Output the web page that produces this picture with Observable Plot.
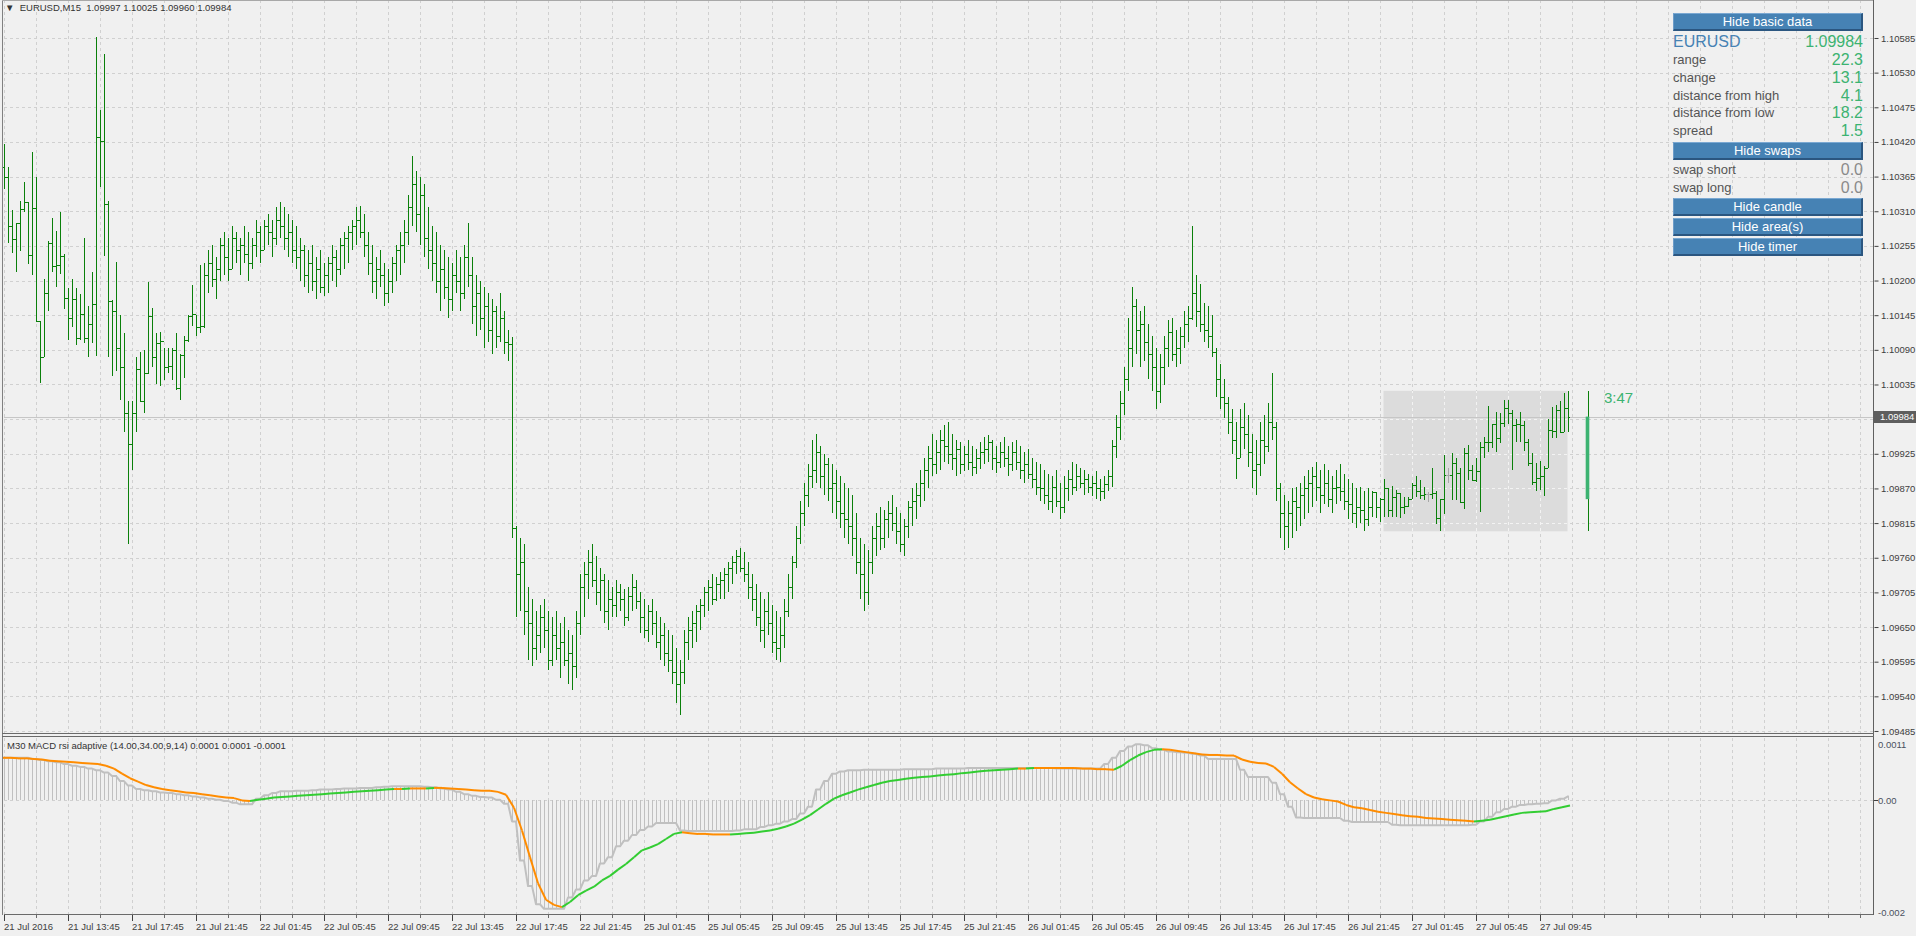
<!DOCTYPE html>
<html>
<head>
<meta charset="utf-8">
<script src="https://cdn.jsdelivr.net/npm/d3@7"></script>
<script src="https://cdn.jsdelivr.net/npm/@observablehq/plot@0.6"></script>
<style>
  html, body { margin:0; padding:0; background:#f0f0f0; }
  #wrap { position:relative; width:1916px; height:936px; overflow:hidden; background:#f0f0f0; }
  #wrap svg { position:absolute; left:0; }
  .ln { position:absolute; background:#7a7a7a; }
  .btn { position:absolute; left:1673px; width:190px; height:18px; box-sizing:border-box; background:#4682b4;
         border-top:1px solid #7aa8d2; border-left:1px solid #6d9cc8; border-bottom:2px solid #2b5680; border-right:2px solid #2b5680;
         color:#fff; font:13px "Liberation Sans", Arial, sans-serif; line-height:15px; text-align:center; }
  .lbl { position:absolute; left:1673px; font:13px "Liberation Sans", Arial, sans-serif; color:#555; line-height:16px; white-space:nowrap; }
  .val { position:absolute; right:53px; font:16px "Liberation Sans", Arial, sans-serif; color:#3cb371; line-height:18px; text-align:right; }
  .sm { font-family:"Liberation Sans", Arial, sans-serif; font-size:9.5px; color:#404040; white-space:pre; }
</style>
</head>
<body>
<div id="wrap"></div>
<script>
// ---------------- data ----------------
const symbolName = "EURUSD";
const titleText = "EURUSD,M15  1.09997 1.10025 1.09960 1.09984";
const indicatorTitle = "M30 MACD rsi adaptive (14.00,34.00,9,14) 0.0001 0.0001 -0.0001";
const lastPrice = 1.09984;
const timerText = "3:47";

const timeLabels = ["21 Jul 2016","21 Jul 13:45","21 Jul 17:45","21 Jul 21:45","22 Jul 01:45","22 Jul 05:45",
  "22 Jul 09:45","22 Jul 13:45","22 Jul 17:45","22 Jul 21:45","25 Jul 01:45","25 Jul 05:45","25 Jul 09:45",
  "25 Jul 13:45","25 Jul 17:45","25 Jul 21:45","26 Jul 01:45","26 Jul 05:45","26 Jul 09:45","26 Jul 13:45",
  "26 Jul 17:45","26 Jul 21:45","27 Jul 01:45","27 Jul 05:45","27 Jul 09:45"];
const timeLabelBars = [0,16,32,48,64,80,96,112,128,144,160,176,192,208,224,240,256,272,288,304,320,336,352,368,384];

const priceTicks = [1.10585,1.10530,1.10475,1.10420,1.10365,1.10310,1.10255,1.10200,1.10145,1.10090,1.10035,
  1.09980,1.09925,1.09870,1.09815,1.09760,1.09705,1.09650,1.09595,1.09540,1.09485];
const indTicks = [0.0011, 0, -0.002];
const indTickLabels = ["0.0011", "0.00", "-0.002"];

// M15 bars
const open = [
 1.10380,1.10365,1.10287,1.10266,1.10291,1.10313,1.10325,1.10240,1.10315,1.10135,
 1.10078,1.10181,1.10259,1.10223,1.10224,1.10239,1.10172,1.10140,1.10171,1.10108,
 1.10147,1.10109,1.10131,1.10162,1.10428,1.10422,1.10321,1.10167,1.10152,1.10093,
 1.10063,1.09990,1.09940,1.09990,1.10060,1.10008,1.10054,1.10143,1.10078,1.10101,
 1.10104,1.10063,1.10065,1.10090,1.10030,1.10082,1.10105,1.10143,1.10147,1.10127,
 1.10128,1.10209,1.10228,1.10203,1.10219,1.10257,1.10238,1.10219,1.10267,1.10248,
 1.10257,1.10242,1.10228,1.10257,1.10277,1.10248,1.10287,1.10277,1.10267,1.10296,
 1.10287,1.10267,1.10277,1.10248,1.10238,1.10248,1.10209,1.10228,1.10199,1.10219,
 1.10190,1.10209,1.10228,1.10238,1.10219,1.10257,1.10267,1.10277,1.10287,1.10296,
 1.10277,1.10257,1.10228,1.10199,1.10219,1.10209,1.10180,1.10199,1.10228,1.10248,
 1.10257,1.10277,1.10316,1.10354,1.10306,1.10335,1.10267,1.10248,1.10228,1.10199,
 1.10219,1.10190,1.10170,1.10209,1.10199,1.10180,1.10238,1.10209,1.10160,1.10180,
 1.10141,1.10160,1.10122,1.10151,1.10112,1.10141,1.10102,1.10100,1.09807,1.09734,
 1.09753,1.09676,1.09656,1.09617,1.09637,1.09666,1.09646,1.09598,1.09637,1.09617,
 1.09627,1.09598,1.09608,1.09588,1.09656,1.09714,1.09734,1.09753,1.09724,1.09705,
 1.09724,1.09676,1.09695,1.09685,1.09705,1.09695,1.09666,1.09699,1.09714,1.09691,
 1.09666,1.09646,1.09676,1.09656,1.09627,1.09637,1.09608,1.09598,1.09579,1.09559,
 1.09579,1.09627,1.09646,1.09656,1.09676,1.09685,1.09705,1.09714,1.09695,1.09718,
 1.09724,1.09734,1.09743,1.09753,1.09763,1.09743,1.09734,1.09714,1.09695,1.09666,
 1.09646,1.09676,1.09656,1.09627,1.09617,1.09637,1.09676,1.09714,1.09753,1.09792,
 1.09831,1.09860,1.09889,1.09899,1.09928,1.09889,1.09908,1.09870,1.09879,1.09850,
 1.09831,1.09821,1.09811,1.09792,1.09753,1.09734,1.09705,1.09753,1.09792,1.09811,
 1.09792,1.09821,1.09831,1.09815,1.09802,1.09782,1.09811,1.09840,1.09850,1.09860,
 1.09879,1.09899,1.09918,1.09908,1.09928,1.09947,1.09937,1.09924,1.09918,1.09932,
 1.09908,1.09924,1.09912,1.09904,1.09918,1.09928,1.09932,1.09943,1.09918,1.09912,
 1.09928,1.09918,1.09908,1.09928,1.09912,1.09899,1.09908,1.09893,1.09885,1.09873,
 1.09870,1.09860,1.09850,1.09873,1.09850,1.09840,1.09870,1.09885,1.09873,1.09889,
 1.09879,1.09885,1.09873,1.09879,1.09870,1.09866,1.09877,1.09889,1.09937,1.09967,
 1.10005,1.10044,1.10093,1.10160,1.10122,1.10131,1.10102,1.10083,1.10063,1.10025,
 1.10063,1.10093,1.10118,1.10083,1.10093,1.10112,1.10131,1.10141,1.10180,1.10151,
 1.10131,1.10122,1.10112,1.10087,1.10044,1.10015,1.10005,1.09976,1.09947,1.09918,
 1.09967,1.09957,1.09928,1.09899,1.09908,1.09947,1.09937,1.09976,1.09967,1.09870,
 1.09831,1.09811,1.09831,1.09850,1.09840,1.09860,1.09870,1.09879,1.09889,1.09873,
 1.09860,1.09879,1.09854,1.09870,1.09873,1.09866,1.09850,1.09846,1.09831,1.09840,
 1.09835,1.09821,1.09840,1.09865,1.09841,1.09853,1.09870,1.09835,1.09857,1.09862,
 1.09841,1.09842,1.09854,1.09875,1.09866,1.09860,1.09861,1.09861,1.09862,1.09823,
 1.09853,1.09891,1.09891,1.09911,1.09894,1.09849,1.09927,1.09899,1.09883,1.09898,
 1.09935,1.09943,1.09944,1.09973,1.09950,1.09974,1.09997,1.09989,1.09971,1.09972,
 1.09971,1.09944,1.09911,1.09881,1.09886,1.09890,1.09903,1.09963,1.09961,1.09995,
 1.09960,1.09997];
const high = [
 1.10417,1.10380,1.10312,1.10292,1.10326,1.10356,1.10325,1.10404,1.10364,1.10136,
 1.10202,1.10263,1.10299,1.10279,1.10309,1.10242,1.10188,1.10202,1.10188,1.10179,
 1.10268,1.10160,1.10214,1.10587,1.10470,1.10560,1.10326,1.10169,1.10229,1.10146,
 1.10116,1.10009,1.10009,1.10079,1.10087,1.10090,1.10197,1.10157,1.10116,1.10118,
 1.10093,1.10093,1.10093,1.10116,1.10084,1.10112,1.10145,1.10193,1.10146,1.10224,
 1.10228,1.10248,1.10257,1.10238,1.10267,1.10277,1.10267,1.10287,1.10277,1.10267,
 1.10287,1.10277,1.10267,1.10296,1.10287,1.10296,1.10306,1.10296,1.10316,1.10325,
 1.10316,1.10306,1.10296,1.10287,1.10267,1.10257,1.10248,1.10257,1.10238,1.10248,
 1.10228,1.10238,1.10257,1.10248,1.10267,1.10277,1.10287,1.10296,1.10316,1.10319,
 1.10306,1.10277,1.10257,1.10238,1.10248,1.10228,1.10219,1.10238,1.10257,1.10277,
 1.10296,1.10335,1.10397,1.10374,1.10364,1.10354,1.10316,1.10287,1.10277,1.10257,
 1.10248,1.10238,1.10228,1.10248,1.10238,1.10257,1.10292,1.10238,1.10209,1.10199,
 1.10190,1.10180,1.10170,1.10160,1.10180,1.10151,1.10122,1.10110,1.09811,1.09792,
 1.09782,1.09714,1.09695,1.09676,1.09685,1.09695,1.09676,1.09666,1.09676,1.09656,
 1.09666,1.09646,1.09637,1.09676,1.09734,1.09753,1.09773,1.09782,1.09763,1.09743,
 1.09734,1.09724,1.09714,1.09724,1.09718,1.09710,1.09714,1.09734,1.09724,1.09705,
 1.09695,1.09685,1.09695,1.09676,1.09666,1.09656,1.09646,1.09637,1.09617,1.09598,
 1.09646,1.09666,1.09676,1.09685,1.09695,1.09714,1.09724,1.09734,1.09730,1.09738,
 1.09743,1.09753,1.09763,1.09773,1.09776,1.09769,1.09753,1.09734,1.09718,1.09705,
 1.09695,1.09705,1.09685,1.09676,1.09666,1.09695,1.09734,1.09763,1.09811,1.09850,
 1.09879,1.09908,1.09947,1.09957,1.09937,1.09924,1.09918,1.09908,1.09899,1.09889,
 1.09879,1.09870,1.09860,1.09831,1.09792,1.09782,1.09773,1.09811,1.09831,1.09840,
 1.09835,1.09850,1.09860,1.09840,1.09831,1.09821,1.09850,1.09870,1.09879,1.09899,
 1.09918,1.09937,1.09957,1.09947,1.09963,1.09970,1.09976,1.09957,1.09947,1.09943,
 1.09937,1.09947,1.09937,1.09932,1.09943,1.09951,1.09955,1.09947,1.09937,1.09943,
 1.09951,1.09937,1.09943,1.09947,1.09937,1.09928,1.09932,1.09918,1.09912,1.09908,
 1.09899,1.09893,1.09889,1.09899,1.09879,1.09889,1.09899,1.09912,1.09908,1.09902,
 1.09899,1.09893,1.09889,1.09897,1.09885,1.09889,1.09899,1.09947,1.09986,1.10025,
 1.10063,1.10141,1.10190,1.10170,1.10151,1.10160,1.10131,1.10112,1.10093,1.10083,
 1.10112,1.10137,1.10141,1.10122,1.10126,1.10151,1.10160,1.10287,1.10209,1.10195,
 1.10164,1.10160,1.10145,1.10093,1.10067,1.10044,1.10015,1.09996,1.09976,1.09996,
 1.10005,1.09986,1.09957,1.09947,1.09976,1.09986,1.10005,1.10054,1.09976,1.09879,
 1.09860,1.09850,1.09870,1.09873,1.09879,1.09889,1.09899,1.09904,1.09912,1.09899,
 1.09908,1.09899,1.09889,1.09899,1.09908,1.09893,1.09885,1.09879,1.09870,1.09873,
 1.09866,1.09870,1.09866,1.09865,1.09855,1.09885,1.09870,1.09874,1.09868,1.09862,
 1.09857,1.09857,1.09879,1.09890,1.09883,1.09873,1.09865,1.09903,1.09866,1.09854,
 1.09923,1.09903,1.09927,1.09918,1.09903,1.09934,1.09939,1.09907,1.09918,1.09943,
 1.09952,1.10001,1.09973,1.09992,1.09990,1.10011,1.10010,1.09995,1.09980,1.09992,
 1.09977,1.09948,1.09926,1.09911,1.09913,1.09905,1.09980,1.09999,1.10002,1.10008,
 1.10021,1.10025];
const low = [
 1.10346,1.10259,1.10243,1.10213,1.10247,1.10309,1.10226,1.10208,1.10134,1.10038,
 1.10078,1.10152,1.10214,1.10189,1.10210,1.10155,1.10105,1.10127,1.10097,1.10106,
 1.10101,1.10078,1.10101,1.10081,1.10348,1.10239,1.10078,1.10049,1.10057,1.10011,
 1.09960,1.09782,1.09900,1.09960,1.10007,1.09990,1.10051,1.10063,1.10035,1.10033,
 1.10042,1.10054,1.10042,1.10026,1.10011,1.10046,1.10102,1.10128,1.10112,1.10116,
 1.10125,1.10180,1.10190,1.10170,1.10199,1.10209,1.10199,1.10219,1.10228,1.10209,
 1.10228,1.10199,1.10219,1.10238,1.10228,1.10248,1.10257,1.10238,1.10257,1.10267,
 1.10248,1.10238,1.10228,1.10219,1.10199,1.10190,1.10180,1.10184,1.10170,1.10180,
 1.10176,1.10180,1.10199,1.10190,1.10209,1.10219,1.10228,1.10248,1.10257,1.10267,
 1.10238,1.10209,1.10180,1.10170,1.10190,1.10160,1.10164,1.10180,1.10199,1.10209,
 1.10228,1.10257,1.10287,1.10277,1.10257,1.10238,1.10219,1.10199,1.10180,1.10151,
 1.10170,1.10141,1.10151,1.10180,1.10151,1.10170,1.10190,1.10131,1.10112,1.10122,
 1.10093,1.10102,1.10083,1.10093,1.10102,1.10083,1.10073,1.09792,1.09666,1.09676,
 1.09637,1.09598,1.09588,1.09598,1.09608,1.09617,1.09582,1.09588,1.09598,1.09569,
 1.09588,1.09559,1.09550,1.09569,1.09637,1.09666,1.09695,1.09714,1.09685,1.09676,
 1.09656,1.09646,1.09666,1.09666,1.09676,1.09652,1.09660,1.09676,1.09679,1.09641,
 1.09633,1.09627,1.09637,1.09617,1.09598,1.09588,1.09579,1.09559,1.09530,1.09511,
 1.09559,1.09598,1.09617,1.09627,1.09646,1.09666,1.09676,1.09685,1.09691,1.09695,
 1.09695,1.09705,1.09718,1.09734,1.09738,1.09722,1.09695,1.09676,1.09652,1.09627,
 1.09617,1.09637,1.09608,1.09598,1.09594,1.09617,1.09666,1.09695,1.09743,1.09782,
 1.09811,1.09840,1.09870,1.09879,1.09870,1.09860,1.09850,1.09831,1.09821,1.09807,
 1.09792,1.09782,1.09763,1.09734,1.09695,1.09676,1.09685,1.09734,1.09763,1.09773,
 1.09776,1.09792,1.09802,1.09782,1.09769,1.09763,1.09792,1.09811,1.09821,1.09840,
 1.09850,1.09870,1.09889,1.09893,1.09899,1.09912,1.09908,1.09899,1.09889,1.09893,
 1.09897,1.09899,1.09889,1.09893,1.09901,1.09908,1.09912,1.09899,1.09895,1.09902,
 1.09904,1.09889,1.09897,1.09899,1.09885,1.09879,1.09885,1.09870,1.09860,1.09850,
 1.09846,1.09835,1.09831,1.09840,1.09821,1.09831,1.09850,1.09860,1.09866,1.09870,
 1.09860,1.09862,1.09858,1.09854,1.09850,1.09854,1.09866,1.09873,1.09918,1.09947,
 1.09986,1.10025,1.10063,1.10083,1.10063,1.10073,1.10044,1.10025,1.09996,1.10005,
 1.10034,1.10063,1.10073,1.10063,1.10067,1.10093,1.10102,1.10137,1.10126,1.10118,
 1.10102,1.10093,1.10079,1.10015,1.09996,1.09982,1.09957,1.09924,1.09885,1.09918,
 1.09932,1.09904,1.09870,1.09860,1.09889,1.09908,1.09928,1.09947,1.09850,1.09792,
 1.09773,1.09776,1.09792,1.09802,1.09811,1.09821,1.09831,1.09840,1.09850,1.09831,
 1.09846,1.09840,1.09831,1.09846,1.09850,1.09835,1.09821,1.09815,1.09807,1.09815,
 1.09802,1.09811,1.09825,1.09823,1.09817,1.09825,1.09825,1.09825,1.09825,1.09823,
 1.09830,1.09841,1.09854,1.09857,1.09854,1.09852,1.09849,1.09854,1.09814,1.09802,
 1.09830,1.09879,1.09852,1.09852,1.09849,1.09838,1.09883,1.09882,1.09881,1.09833,
 1.09919,1.09928,1.09934,1.09928,1.09942,1.09968,1.09973,1.09899,1.09943,1.09944,
 1.09930,1.09906,1.09875,1.09866,1.09868,1.09858,1.09903,1.09950,1.09950,1.09959,
 1.09959,1.09960];
const close = [
 1.10365,1.10287,1.10266,1.10291,1.10313,1.10325,1.10240,1.10315,1.10135,1.10078,
 1.10181,1.10259,1.10223,1.10224,1.10239,1.10172,1.10140,1.10171,1.10108,1.10147,
 1.10109,1.10131,1.10162,1.10428,1.10422,1.10321,1.10167,1.10152,1.10093,1.10063,
 1.09990,1.09940,1.09990,1.10060,1.10008,1.10054,1.10143,1.10078,1.10101,1.10104,
 1.10063,1.10065,1.10090,1.10030,1.10082,1.10105,1.10143,1.10147,1.10127,1.10128,
 1.10209,1.10228,1.10203,1.10219,1.10257,1.10238,1.10219,1.10267,1.10248,1.10257,
 1.10242,1.10228,1.10257,1.10277,1.10248,1.10287,1.10277,1.10267,1.10296,1.10287,
 1.10267,1.10277,1.10248,1.10238,1.10248,1.10209,1.10228,1.10199,1.10219,1.10190,
 1.10209,1.10228,1.10238,1.10219,1.10257,1.10267,1.10277,1.10287,1.10296,1.10277,
 1.10257,1.10228,1.10199,1.10219,1.10209,1.10180,1.10199,1.10228,1.10248,1.10257,
 1.10277,1.10316,1.10354,1.10306,1.10335,1.10267,1.10248,1.10228,1.10199,1.10219,
 1.10190,1.10170,1.10209,1.10199,1.10180,1.10238,1.10209,1.10160,1.10180,1.10141,
 1.10160,1.10122,1.10151,1.10112,1.10141,1.10102,1.10100,1.09807,1.09734,1.09753,
 1.09676,1.09656,1.09617,1.09637,1.09666,1.09646,1.09598,1.09637,1.09617,1.09627,
 1.09598,1.09608,1.09588,1.09656,1.09714,1.09734,1.09753,1.09724,1.09705,1.09724,
 1.09676,1.09695,1.09685,1.09705,1.09695,1.09666,1.09699,1.09714,1.09691,1.09666,
 1.09646,1.09676,1.09656,1.09627,1.09637,1.09608,1.09598,1.09579,1.09559,1.09579,
 1.09627,1.09646,1.09656,1.09676,1.09685,1.09705,1.09714,1.09695,1.09718,1.09724,
 1.09734,1.09743,1.09753,1.09763,1.09743,1.09734,1.09714,1.09695,1.09666,1.09646,
 1.09676,1.09656,1.09627,1.09617,1.09637,1.09676,1.09714,1.09753,1.09792,1.09831,
 1.09860,1.09889,1.09899,1.09928,1.09889,1.09908,1.09870,1.09879,1.09850,1.09831,
 1.09821,1.09811,1.09792,1.09753,1.09734,1.09705,1.09753,1.09792,1.09811,1.09792,
 1.09821,1.09831,1.09815,1.09802,1.09782,1.09811,1.09840,1.09850,1.09860,1.09879,
 1.09899,1.09918,1.09908,1.09928,1.09947,1.09937,1.09924,1.09918,1.09932,1.09908,
 1.09924,1.09912,1.09904,1.09918,1.09928,1.09932,1.09943,1.09918,1.09912,1.09928,
 1.09918,1.09908,1.09928,1.09912,1.09899,1.09908,1.09893,1.09885,1.09873,1.09870,
 1.09860,1.09850,1.09873,1.09850,1.09840,1.09870,1.09885,1.09873,1.09889,1.09879,
 1.09885,1.09873,1.09879,1.09870,1.09866,1.09877,1.09889,1.09937,1.09967,1.10005,
 1.10044,1.10093,1.10160,1.10122,1.10131,1.10102,1.10083,1.10063,1.10025,1.10063,
 1.10093,1.10118,1.10083,1.10093,1.10112,1.10131,1.10141,1.10180,1.10151,1.10131,
 1.10122,1.10112,1.10087,1.10044,1.10015,1.10005,1.09976,1.09947,1.09918,1.09967,
 1.09957,1.09928,1.09899,1.09908,1.09947,1.09937,1.09976,1.09967,1.09870,1.09831,
 1.09811,1.09831,1.09850,1.09840,1.09860,1.09870,1.09879,1.09889,1.09873,1.09860,
 1.09879,1.09854,1.09870,1.09873,1.09866,1.09850,1.09846,1.09831,1.09840,1.09835,
 1.09821,1.09840,1.09865,1.09841,1.09853,1.09870,1.09835,1.09857,1.09862,1.09841,
 1.09842,1.09854,1.09875,1.09866,1.09860,1.09861,1.09861,1.09862,1.09823,1.09853,
 1.09891,1.09891,1.09911,1.09894,1.09849,1.09927,1.09899,1.09883,1.09898,1.09935,
 1.09943,1.09944,1.09973,1.09950,1.09974,1.09997,1.09989,1.09971,1.09972,1.09971,
 1.09944,1.09911,1.09881,1.09886,1.09890,1.09903,1.09963,1.09961,1.09995,1.09960,
 1.09997,1.09984];

// daily range area (27 Jul) and the daily candle drawn at the right
const areaStartBar = 345, areaEndBar = 391;
const areaHigh = 1.10025, areaLow = 1.09802;
const dayCandleBar = 396;
const dayOpen = 1.09853, dayHigh = 1.10025, dayLow = 1.09802, dayClose = 1.09984;
const timerBar = 400;

// indicator values on M30 (each covers two M15 bars)
const macdM30 = [0.00076,0.00076,0.00076,0.00076,0.00074,0.00072,0.0007,0.00068,0.00065,0.00062,
 0.0006,0.00057,0.00054,0.0005,0.00044,0.00035,0.00027,0.00021,0.00019,0.00017,
 0.00015,0.00014,0.00012,0.0001,0.00008,0.00006,0.00004,0.00002,0,-0.00003,
 -0.00006,-0.00006,0.00004,0.0001,0.00014,0.00017,0.00017,0.00018,0.00018,0.00019,
 0.0002,0.0002,0.00021,0.00022,0.00022,0.00023,0.00023,0.00024,0.00025,0.00026,
 0.00026,0.00026,0.00026,0.00025,0.00024,0.00022,0.0002,0.00016,0.00012,0.00009,
 0.00007,0.00006,0.00002,-0.00005,-0.00036,-0.00105,-0.0015,-0.00182,-0.0019,-0.0019,
 -0.0019,-0.0017,-0.00156,-0.0014,-0.00132,-0.0011,-0.00099,-0.0008,-0.0007,-0.0006,
 -0.00051,-0.00045,-0.00039,-0.00039,-0.00039,-0.00052,-0.00053,-0.00053,-0.00053,-0.00053,
 -0.00053,-0.00053,-0.00052,-0.0005,-0.0005,-0.00046,-0.00043,-0.0004,-0.00036,-0.00032,
 -0.00022,-0.0001,0.0002,0.00035,0.00048,0.00052,0.00054,0.00054,0.00055,0.00055,
 0.00055,0.00055,0.00055,0.00056,0.00056,0.00056,0.00056,0.00057,0.00057,0.00057,
 0.00057,0.00058,0.00058,0.00058,0.00058,0.00058,0.00058,0.00058,0.00058,0.00058,
 0.00058,0.00058,0.00057,0.00057,0.00057,0.00057,0.00057,0.00057,0.00065,0.00076,
 0.00088,0.00096,0.001,0.00098,0.00093,0.0009,0.00087,0.00086,0.00085,0.00083,
 0.0008,0.00074,0.00074,0.00074,0.00074,0.00055,0.00042,0.00042,0.00042,0.00032,
 0.00012,-0.0001,-0.00029,-0.0003,-0.0003,-0.0003,-0.0003,-0.0003,-0.00035,-0.00037,
 -0.00037,-0.00037,-0.00037,-0.00037,-0.00042,-0.00043,-0.00043,-0.00043,-0.00043,-0.00043,
 -0.00043,-0.00043,-0.00043,-0.00043,-0.00042,-0.00036,-0.00028,-0.0002,-0.00014,-0.0001,
 -0.00007,-0.00006,-0.00005,-0.00004,0.00001,0.00004,0.00008];
const signalM30 = [0.00076,0.00076,0.00075,0.00075,0.00074,0.00073,0.00071,0.0007,0.00069,0.00068,
 0.00067,0.00066,0.00065,0.00062,0.00057,0.00048,0.0004,0.00034,0.00028,0.00024,
 0.00021,0.00019,0.00017,0.00015,0.00014,0.00012,0.0001,0.00008,0.00006,0.00005,
 0.00001,0,0.00002,0.00004,0.00006,0.00007,0.00008,0.00009,0.0001,0.00011,
 0.00012,0.00013,0.00014,0.00015,0.00016,0.00017,0.00018,0.00019,0.0002,0.00021,
 0.00021,0.00022,0.00022,0.00022,0.00023,0.00023,0.00022,0.00021,0.0002,0.00019,
 0.00018,0.00018,0.00016,0.00011,-0.00012,-0.00052,-0.00099,-0.00145,-0.00174,-0.00183,
 -0.00187,-0.00178,-0.00166,-0.00158,-0.00151,-0.0014,-0.00132,-0.00121,-0.00111,-0.00099,
 -0.00087,-0.00082,-0.00076,-0.00067,-0.00058,-0.00055,-0.00057,-0.00058,-0.00058,-0.00059,
 -0.00059,-0.00059,-0.00058,-0.00057,-0.00056,-0.00054,-0.00052,-0.00049,-0.00045,-0.0004,
 -0.00033,-0.00025,-0.00015,-0.00005,0.00004,0.0001,0.00015,0.0002,0.00024,0.00028,
 0.00032,0.00035,0.00037,0.00039,0.00041,0.00042,0.00043,0.00045,0.00046,0.00047,
 0.00049,0.0005,0.00052,0.00053,0.00054,0.00055,0.00056,0.00057,0.00057,0.00058,
 0.00058,0.00058,0.00058,0.00058,0.00058,0.00057,0.00057,0.00056,0.00056,0.00055,
 0.00062,0.00072,0.0008,0.00086,0.0009,0.00091,0.0009,0.00088,0.00086,0.00084,
 0.00082,0.00081,0.00081,0.0008,0.0008,0.00073,0.00069,0.00067,0.00066,0.0006,
 0.00048,0.00033,0.00022,0.00012,0.00006,0.00003,0.00001,-0.00001,-0.00007,-0.00011,
 -0.00013,-0.00016,-0.00019,-0.00021,-0.00023,-0.00025,-0.00027,-0.00028,-0.0003,-0.00031,
 -0.00032,-0.00033,-0.00034,-0.00035,-0.00036,-0.00035,-0.00033,-0.0003,-0.00027,-0.00024,
 -0.00021,-0.0002,-0.00019,-0.00018,-0.00014,-0.00011,-0.00008];

const panelRows = ["range","change","distance from high","distance from low","spread"];
const panelVals = ["22.3","13.1","4.1","18.2","1.5"];
const swapRows = ["swap short","swap long"];
const swapVals = ["0.0","0.0"];
const buttons = ["Hide basic data","Hide swaps","Hide candle","Hide area(s)","Hide timer"];

// ---------------- chart ----------------
const W = 1916;
const barGreen = "#0a800a", dojiGray = "#a8a8a8";
const gridCol = "#d0d0d0";
const font = '"Liberation Sans", Arial, sans-serif';
const xDomain = [0, 467.5];
const gridBars = d3.range(0, 468, 8);
const bars = close.map((c, i) => ({i, o: open[i], h: high[i], l: low[i], c}));
const barColor = d => d.o === d.c ? dojiGray : barGreen;

const wrap = document.getElementById("wrap");
function el(cls, style, text) {
  const d = document.createElement("div");
  if (cls) d.className = cls;
  Object.assign(d.style, style);
  if (text != null) d.textContent = text;
  wrap.appendChild(d);
  return d;
}

const main = Plot.plot({
  width: W, height: 733,
  marginLeft: 3.5, marginRight: 42.5, marginTop: 0, marginBottom: 0,
  x: {domain: xDomain, axis: null},
  y: {domain: [1.094818, 1.106453], axis: null},
  color: {type: "identity"},
  style: {background: "transparent", overflow: "visible", fontFamily: font, fontSize: "9.5px", color: "#404040"},
  marks: [
    Plot.rect([0], {x1: () => areaStartBar, x2: () => areaEndBar, y1: () => areaLow, y2: () => areaHigh, fill: "#dcdcdc"}),
    Plot.ruleY(priceTicks, {stroke: gridCol, strokeDasharray: "3,3", shapeRendering: "crispEdges"}),
    Plot.ruleX(gridBars, {stroke: gridCol, strokeDasharray: "3,3", shapeRendering: "crispEdges"}),
    Plot.ruleY(priceTicks.filter(p => p <= areaHigh && p >= areaLow), {x1: areaStartBar, x2: areaEndBar, stroke: "#f3f3f3", strokeDasharray: "3,3", shapeRendering: "crispEdges"}),
    Plot.ruleX(gridBars.filter(b => b >= areaStartBar && b <= areaEndBar), {y1: areaLow, y2: areaHigh, stroke: "#f3f3f3", strokeDasharray: "3,3", shapeRendering: "crispEdges"}),
    Plot.ruleY([lastPrice], {stroke: "#c6c6c6", shapeRendering: "crispEdges"}),
    Plot.ruleX(bars, {x: "i", y1: "l", y2: "h", stroke: barColor, shapeRendering: "crispEdges"}),
    Plot.link(bars, {x1: d => d.i - 0.5, x2: "i", y1: "o", y2: "o", stroke: barColor, shapeRendering: "crispEdges"}),
    Plot.link(bars, {x1: "i", x2: d => d.i + 0.5, y1: "c", y2: "c", stroke: barColor, shapeRendering: "crispEdges"}),
    Plot.ruleX([dayCandleBar], {y1: dayLow, y2: dayHigh, stroke: barGreen, shapeRendering: "crispEdges"}),
    Plot.rect([0], {x1: () => dayCandleBar - 0.45, x2: () => dayCandleBar + 0.45, y1: () => dayOpen, y2: () => dayClose, fill: "#3cb371"}),
    Plot.text([timerText], {x: timerBar, y: dayHigh, text: d => d, dy: 7, textAnchor: "start", fill: "#3cb371", fontSize: 15}),
    Plot.axisY({anchor: "right", ticks: priceTicks.filter(p => Math.abs(p - lastPrice) > 0.0001), tickFormat: d => d.toFixed(5), tickSize: 4, tickPadding: 3, label: null})
  ]
});
main.style.top = "0px";
wrap.appendChild(main);

// indicator data per M15 bar
const nBars = 2 * (macdM30.length - 1);
const indBars = d3.range(nBars).map(i => ({i, v: macdM30[Math.floor((i + 1) / 2)]}));
const sigSegs = d3.range(signalM30.length - 1).map(j => ({
  x1: 2 * j - 0.5, x2: 2 * (j + 1) - 0.5, y1: signalM30[j], y2: signalM30[j + 1],
  up: signalM30[j + 1] > signalM30[j]
}));
const upp = 0.0031 / 176; // value units per pixel in the indicator panel

const ind = Plot.plot({
  width: W, height: 200,
  marginLeft: 3.5, marginRight: 42.5, marginTop: 2, marginBottom: 22,
  x: {domain: xDomain, axis: null},
  y: {domain: [-0.002, 0.0011], axis: null},
  color: {type: "identity"},
  style: {background: "transparent", overflow: "visible", fontFamily: font, fontSize: "9.5px", color: "#404040"},
  marks: [
    Plot.ruleX(gridBars, {stroke: gridCol, strokeDasharray: "3,3", shapeRendering: "crispEdges"}),
    Plot.ruleY([0], {stroke: gridCol, strokeDasharray: "3,3", shapeRendering: "crispEdges"}),
    Plot.ruleX(indBars, {x: "i", y1: 0, y2: "v", stroke: "#c0c0c0", shapeRendering: "crispEdges"}),
    Plot.line(indBars, {x: "i", y: "v", stroke: "#c0c0c0", strokeWidth: 2}),
    Plot.link(sigSegs, {x1: "x1", x2: "x2", y1: "y1", y2: "y2", stroke: d => d.up ? "#32cd32" : "#ff8c00", strokeWidth: 2}),
    Plot.text([indTicks[0]], {x: xDomain[1], y: d => d, text: () => indTickLabels[0], dx: 4, dy: 6, textAnchor: "start", fill: "#4a5060"}),
    Plot.text([indTicks[1]], {x: xDomain[1], y: d => d, text: () => indTickLabels[1], dx: 4, dy: 0, textAnchor: "start", fill: "#4a5060"}),
    Plot.text([indTicks[2]], {x: xDomain[1], y: d => d, text: () => indTickLabels[2], dx: 4, dy: -2, textAnchor: "start", fill: "#4a5060"}),
    Plot.link([0], {x1: () => xDomain[1], x2: () => xDomain[1] + 1, y1: () => 0, y2: () => 0, stroke: "#404040", shapeRendering: "crispEdges"}),
    Plot.ruleY([-0.002], {stroke: "#6a6a6a", shapeRendering: "crispEdges"}),
    Plot.link(gridBars, {x1: d => d, x2: d => d, y1: () => -0.002, y2: () => -0.002 - 3 * upp, stroke: "#6a6a6a", shapeRendering: "crispEdges"}),
    Plot.link(timeLabelBars, {x1: d => d, x2: d => d, y1: () => -0.002, y2: () => -0.002 - 6 * upp, stroke: "#404040", shapeRendering: "crispEdges"}),
    Plot.text(timeLabelBars, {x: d => d, y: () => -0.002, text: (d, k) => timeLabels[k], dy: 12, textAnchor: "start", fill: "#404040"})
  ]
});
ind.style.top = "736px";
wrap.appendChild(ind);

// frame lines
el("ln", {left: "2px", top: "0px", width: "1px", height: "915px", background: "#808080"});
el("ln", {left: "2px", top: "0px", width: "1871px", height: "1px", background: "#a8a8a8"});
el("ln", {left: "1873px", top: "0px", width: "1px", height: "915px", background: "#606060"});
el("ln", {left: "2px", top: "733px", width: "1872px", height: "1px", background: "#6a6a6a"});
el("ln", {left: "2px", top: "736px", width: "1872px", height: "1px", background: "#6a6a6a"});

// title and indicator caption
el("sm", {position: "absolute", left: "5px", top: "1px", lineHeight: "14px", color: "#333"}, "\u25BC  " + titleText);
el("sm", {position: "absolute", left: "7px", top: "739px", lineHeight: "14px", color: "#333"}, indicatorTitle);

// current price box
const yMain = main.scale("y");
const py = yMain.apply(lastPrice);
el("sm", {position: "absolute", left: "1874px", top: (py - 6) + "px", width: "42px", height: "12px", lineHeight: "12px",
  background: "#5e5e5e", color: "#fff", paddingLeft: "6px", boxSizing: "border-box"}, lastPrice.toFixed(5));

// info panel
const btnTops = [13, 142, 198, 218, 238];
buttons.forEach((b, k) => el("btn", {top: btnTops[k] + "px"}, b));
el("lbl", {top: "33px", fontSize: "16px", lineHeight: "18px", color: "#4682b4"}, symbolName);
el("val", {top: "33px"}, lastPrice.toFixed(5));
const rowCenters = [60, 78, 96, 113, 131];
panelRows.forEach((r, k) => {
  el("lbl", {top: (rowCenters[k] - 8) + "px"}, r);
  el("val", {top: (rowCenters[k] - 9) + "px"}, panelVals[k]);
});
const swapCenters = [170, 188];
swapRows.forEach((r, k) => {
  el("lbl", {top: (swapCenters[k] - 8) + "px"}, r);
  el("val", {top: (swapCenters[k] - 9) + "px", color: "#8a8a8a"}, swapVals[k]);
});
</script>
</body>
</html>
